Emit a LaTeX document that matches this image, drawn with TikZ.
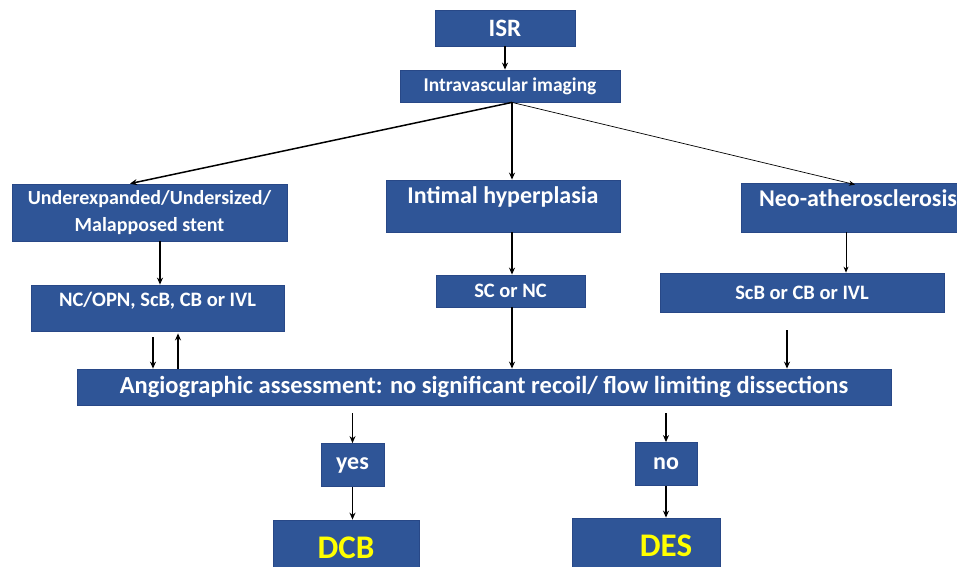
\documentclass[tikz,border=0pt]{standalone}
\usepackage{fontspec}
\setmainfont{Carlito}
\usetikzlibrary{arrows.meta}
\definecolor{boxblue}{RGB}{47,85,151}
\definecolor{boxedge}{RGB}{40,72,135}
\definecolor{hiyellow}{RGB}{255,255,0}
\tikzset{
  box/.style={draw=boxedge, line width=0.8pt, fill=boxblue, text=white,
    rectangle, inner sep=0pt, align=center, font=\bfseries},
  arr/.style={-{Stealth[length=7pt,width=6pt]}, line width=1.5pt, black},
  thin arr/.style={-{Stealth[length=6pt,width=5pt]}, line width=0.7pt, black},
}
\begin{document}
\begin{tikzpicture}[x=1pt,y=-1pt]
\useasboundingbox (0,0) rectangle (957,566);
\fill[white] (0,0) rectangle (957,566);

\node[box, minimum width=140pt, minimum height=36pt, font=\fontsize{25}{27}\selectfont\bfseries] (isr) at (505,28) {ISR};
\node[box, minimum width=220pt, minimum height=32pt, font=\fontsize{19.5}{21}\selectfont\bfseries] (ivi) at (510,86) {Intravascular imaging};

\node[box, minimum width=275pt, minimum height=57pt, font=\fontsize{20}{27}\selectfont\bfseries] (under) at (149.5,212.5) {Underexpanded/Undersized/\\Malapposed stent};
\node[box, minimum width=234pt, minimum height=52pt, font=\fontsize{24}{26}\selectfont\bfseries] (ih) at (503,206) {Intimal hyperplasia\\[-12pt]\strut};
\node[box, minimum width=234pt, minimum height=49pt, font=\fontsize{24}{26}\selectfont\bfseries] (neo) at (858,207.5) {Neo-atherosclerosis\\[-15pt]\strut};

\node[box, minimum width=253pt, minimum height=46pt, font=\fontsize{20.5}{22}\selectfont\bfseries] (ncopn) at (157.5,308) {NC/OPN, ScB, CB or IVL\\[-12pt]\strut};
\node[box, minimum width=149pt, minimum height=32pt, font=\fontsize{20.5}{22}\selectfont\bfseries] (scnc) at (510.5,291) {SC or NC};
\node[box, minimum width=284pt, minimum height=39pt, font=\fontsize{20.5}{22}\selectfont\bfseries] (scb) at (802,292.5) {ScB or CB or IVL};

\node[box, minimum width=814pt, minimum height=36pt, font=\fontsize{24.5}{26}\selectfont\bfseries] (angio) at (484,387) {Angiographic assessment: no significant recoil/ flow limiting dissections};

\node[box, minimum width=63pt, minimum height=43pt, font=\fontsize{24}{26}\selectfont\bfseries] (yes) at (352.5,465) {yes};
\node[box, minimum width=62pt, minimum height=43pt, font=\fontsize{24}{26}\selectfont\bfseries] (no) at (666,464) {no};

\node[box, minimum width=146pt, minimum height=56pt, text=hiyellow, font=\fontsize{33}{35}\selectfont\bfseries] (dcb) at (346,548) {DCB};
\node[box, minimum width=148pt, minimum height=56pt, text=hiyellow, font=\fontsize{33}{35}\selectfont\bfseries] (des) at (646,546) {\hspace*{40pt}DES};

% top chain
\draw[arr] (isr) -- (ivi.north -| isr);
\draw[arr] (ivi.south -| 512,0) -- (under.north -| 130,0);
\draw[arr] (ivi.south -| 512,0) -- (ih.north -| 512,0);
\draw[thin arr] (ivi.south -| 512,0) -- ([yshift=-2pt]neo.north -| 855,0);

% second row
\draw[arr] (under.south -| 160,0) -- (ncopn.north -| 160,0);
\draw[arr] (ih.south -| 512,0) -- (scnc.north -| 512,0);
\draw[thin arr] (neo.south -| 846,0) -- (scb.north -| 846,0);

% into the assessment box
\draw[arr, shorten <=6pt] (ncopn.south -| 153,0) -- (angio.north -| 153,0);
\draw[arr, shorten >=2pt] (angio.north -| 178,0) -- (ncopn.south -| 178,0);
\draw[arr] (scnc.south -| 512,0) -- (angio.north -| 512,0);
\draw[arr, shorten <=18pt] (scb.south -| 787,0) -- (angio.north -| 787,0);

% outcome branches
\draw[arr, shorten <=8pt] (angio.south -| yes) -- (yes);
\draw[arr, shorten <=8pt] (angio.south -| no) -- (no);
\draw[arr] (yes) -- (yes |- dcb.north);
\draw[arr] (no) -- (no |- des.north);
\end{tikzpicture}
\end{document}
